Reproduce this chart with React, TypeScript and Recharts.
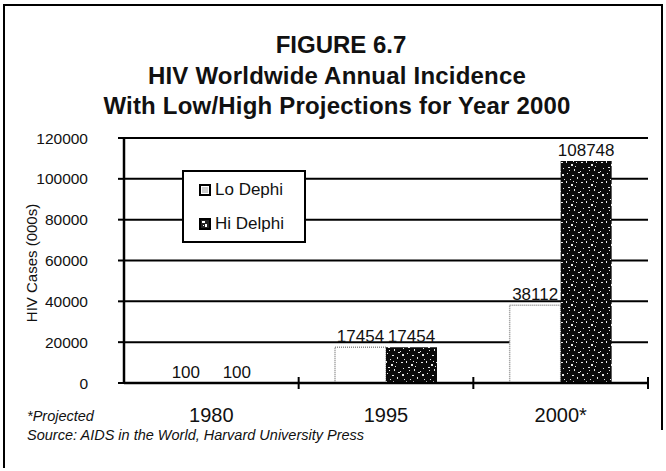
import React from 'react';
import { BarChart, Bar, XAxis, YAxis, CartesianGrid, LabelList } from 'recharts';

const categories = ['1980', '1995', '2000*'];
const loDelphi = [100, 17454, 38112];
const hiDelphi = [100, 17454, 108748];
const yTicks = [0, 20000, 40000, 60000, 80000, 100000, 120000];
const seriesNames = ['Lo Dephi', 'Hi Delphi'];
const titleLines = ['FIGURE 6.7', 'HIV Worldwide Annual Incidence', 'With Low/High Projections for Year 2000'];
const yAxisTitle = 'HIV Cases (000s)';
const footnote = '*Projected';
const source = 'Source: AIDS in the World, Harvard University Press';

const data = categories.map((c, i) => ({ category: c, lo: loDelphi[i], hi: hiDelphi[i] }));

const FONT = '"Liberation Sans", Arial, Helvetica, sans-serif';

// speckle texture (style only)
const specks: [number, number, number, number][] = [
  [1, 2, 2, 1], [6, 1, 1, 2], [11, 4, 2, 2], [16, 2, 1, 1], [3, 8, 1, 1], [8, 7, 2, 1],
  [14, 9, 1, 2], [18, 12, 2, 1], [2, 14, 2, 2], [7, 13, 1, 1], [12, 15, 2, 1], [17, 17, 1, 2],
  [4, 19, 1, 1], [10, 19, 1, 1], [15, 6, 1, 1], [0, 11, 1, 1], [9, 10, 1, 1], [13, 1, 1, 1],
];

const XTick = (props: any) => {
  const { x, y, payload } = props;
  const half = payload && typeof payload.offset === 'number' && payload.offset > 0 ? payload.offset : 87.33;
  return (
    <g>
      <line x1={x + half} x2={x + half} y1={y - 6} y2={y + 6} stroke="#000" strokeWidth={2} />
      <text x={x} y={y + 39} textAnchor="middle" fontSize={20} fontFamily={FONT} fill="#111">
        {payload.value}
      </text>
    </g>
  );
};

const Swatch = ({ kind }: { kind: string }) => (
  <svg width={12} height={12} style={{ display: 'block' }}>
    {kind === 'lo' ? (
      <>
        <rect x={1} y={1} width={10} height={10} fill="#fff" stroke="#000" strokeWidth={2} />
        <rect x={3} y={3} width={6} height={6} fill="#ccc" />
      </>
    ) : (
      <>
        <rect x={1} y={1} width={10} height={10} fill="#222" stroke="#000" strokeWidth={2} />
        <rect x={3} y={3} width={3} height={2} fill="#fff" />
        <rect x={6} y={6} width={2} height={3} fill="#fff" />
        <rect x={4} y={7} width={1} height={1} fill="#fff" />
      </>
    )}
  </svg>
);

const LegendBox = () => (
  <div
    style={{
      position: 'absolute',
      left: 182,
      top: 170,
      width: 124,
      height: 73,
      boxSizing: 'border-box',
      border: '2px solid #000',
      background: '#fff',
      fontFamily: FONT,
      fontSize: 17,
      color: '#111',
      paddingTop: 1,
      paddingLeft: 15,
    }}
  >
    {seriesNames.map((n, i) => (
      <div key={n} style={{ display: 'flex', alignItems: 'center', height: 34 }}>
        <Swatch kind={i === 0 ? 'lo' : 'hi'} />
        <span style={{ marginLeft: 4 }}>{n}</span>
      </div>
    ))}
  </div>
);

export default function App() {
  return (
    <div style={{ position: 'absolute', left: 0, top: 0, width: 666, height: 471, background: '#fff' }}>
      <BarChart
        width={666}
        height={471}
        data={data}
        margin={{ top: 138, right: 18, bottom: 58, left: 0 }}
        barGap={0}
        barCategoryGap="20.8%"
      >
        <defs>
          <pattern id="speckle" patternUnits="userSpaceOnUse" width={20} height={20}>
            <rect x={0} y={0} width={20} height={20} fill="#0a0a0a" />
            {specks.map((s, i) => (
              <rect key={i} x={s[0]} y={s[1]} width={s[2]} height={s[3]} fill="#e8e8e8" />
            ))}
          </pattern>
        </defs>
        <CartesianGrid vertical={false} stroke="#000" strokeWidth={2} />
        <XAxis
          dataKey="category"
          height={30}
          axisLine={{ stroke: '#000', strokeWidth: 2.5 }}
          tickLine={false}
          tickSize={0}
          tickMargin={0}
          tick={<XTick />}
          interval={0}
        />
        <YAxis
          width={124}
          domain={[0, 120000]}
          ticks={yTicks}
          interval={0}
          axisLine={{ stroke: '#000', strokeWidth: 2.5 }}
          tickLine={{ stroke: '#000', strokeWidth: 2 }}
          tickSize={6}
          tickMargin={30}
          tick={{ fill: '#111', fontSize: 15.5, fontFamily: FONT }}
        />
        <Bar dataKey="lo" name={seriesNames[0]} fill="#fff" stroke="#8a8a8a" strokeWidth={1.5} strokeDasharray="1 1" isAnimationActive={false}>
          <LabelList dataKey="lo" position="top" offset={5} fill="#111" fontSize={17} fontFamily={FONT} />
        </Bar>
        <Bar dataKey="hi" name={seriesNames[1]} fill="url(#speckle)" isAnimationActive={false}>
          <LabelList dataKey="hi" position="top" offset={5} fill="#111" fontSize={17} fontFamily={FONT} />
        </Bar>
      </BarChart>
      <LegendBox />
      <svg
        width={666}
        height={471}
        style={{ position: 'absolute', left: 0, top: 0, pointerEvents: 'none' }}
      >
        <path d="M4 468 V5 H662 V430" fill="none" stroke="#000" strokeWidth={2} />
        <text x={341} y={53} textAnchor="middle" fontSize={24} fontWeight="bold" fontFamily={FONT} fill="#111">
          {titleLines[0]}
        </text>
        <text x={337} y={84} textAnchor="middle" fontSize={24} fontWeight="bold" letterSpacing={0.2} fontFamily={FONT} fill="#111">
          {titleLines[1]}
        </text>
        <text x={337} y={114} textAnchor="middle" fontSize={24} fontWeight="bold" letterSpacing={0.2} fontFamily={FONT} fill="#111">
          {titleLines[2]}
        </text>
        <text
          x={0}
          y={0}
          transform="translate(37 263) rotate(-90)"
          textAnchor="middle"
          fontSize={15}
          fontFamily={FONT}
          fill="#111"
        >
          {yAxisTitle}
        </text>
        <text x={27} y={421} fontSize={14.5} fontStyle="italic" fontFamily={FONT} fill="#111">
          {footnote}
        </text>
        <text x={27} y={440} fontSize={14.5} fontStyle="italic" fontFamily={FONT} fill="#111">
          {source}
        </text>
      </svg>
    </div>
  );
}
